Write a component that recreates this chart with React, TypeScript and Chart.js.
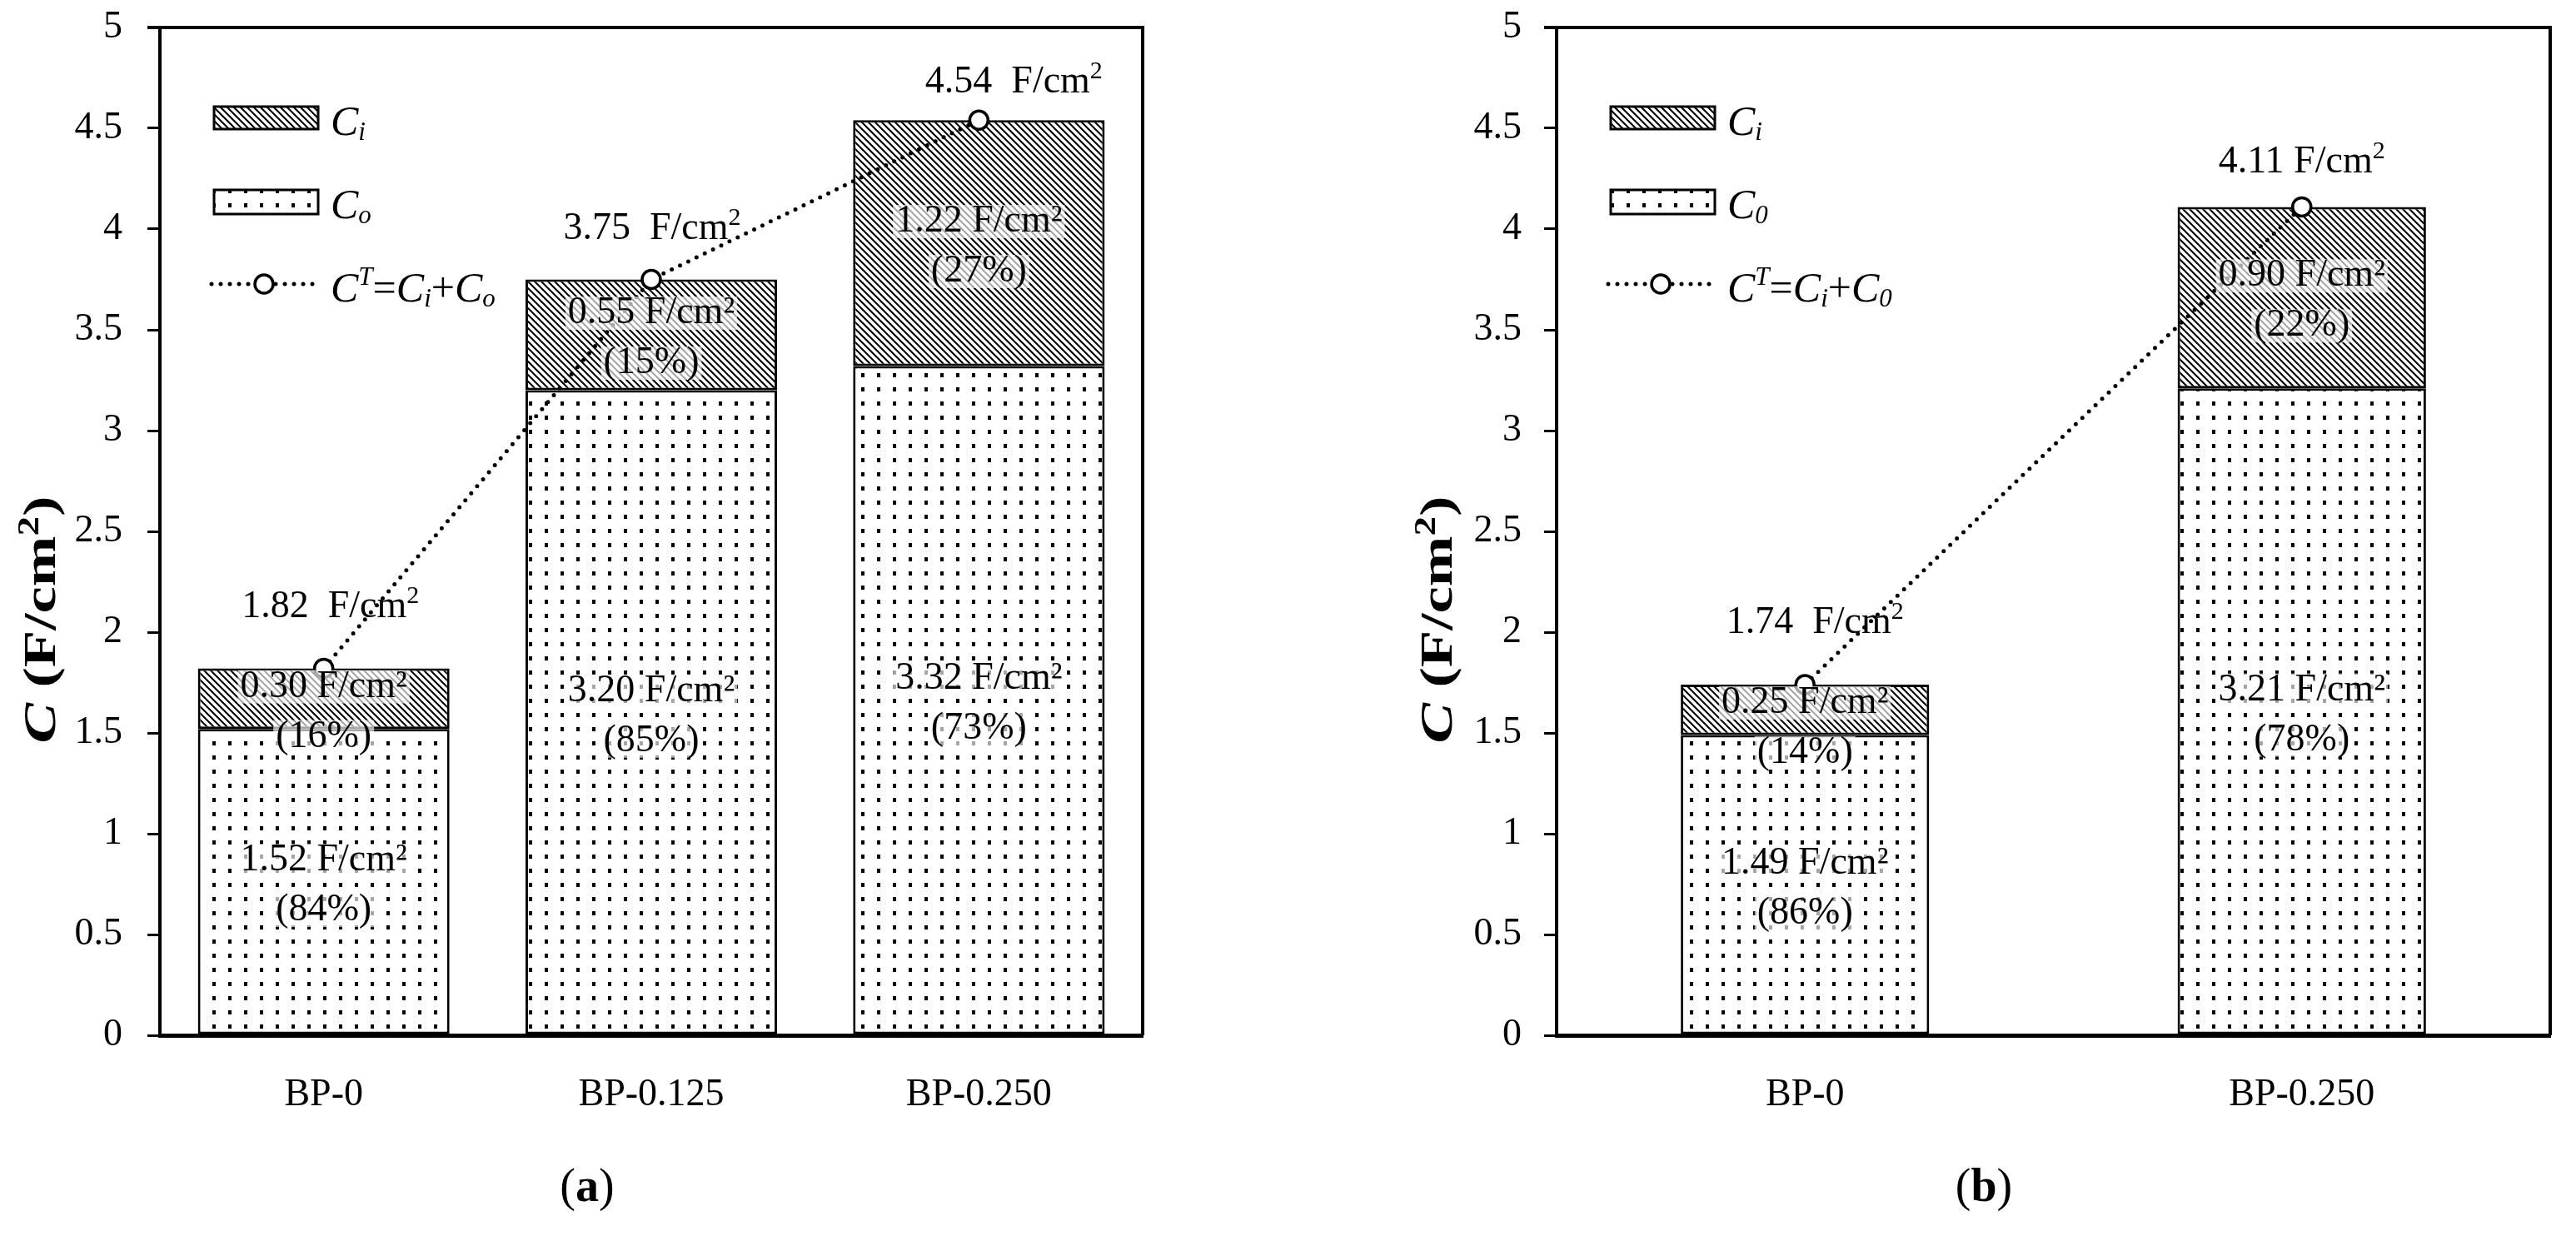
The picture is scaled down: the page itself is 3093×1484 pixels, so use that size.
import React, { useEffect, useRef } from "react";
import { Chart, registerables } from "chart.js";

Chart.register(...registerables);

const FONT = '"Liberation Serif", "Times New Roman", serif';

// ---------- Panel (a) data ----------
const categoriesA = ["BP-0", "BP-0.125", "BP-0.250"];
const coA = [1.52, 3.2, 3.32];
const ciA = [0.3, 0.55, 1.22];
const totalA = [1.82, 3.75, 4.54];
const coPctA = [84, 85, 73];
const ciPctA = [16, 15, 27];

// ---------- Panel (b) data ----------
const categoriesB = ["BP-0", "BP-0.250"];
const coB = [1.49, 3.21];
const ciB = [0.25, 0.9];
const totalB = [1.74, 4.11];
const coPctB = [86, 78];
const ciPctB = [14, 22];

// ---------- Axis ----------
const yMin = 0;
const yMax = 5;
const yStep = 0.5;

type Part = { t: string; f: string; dy?: number };

function drawRich(ctx: CanvasRenderingContext2D, parts: Part[], x: number, y: number, align: "left" | "center" | "right") {
  let w = 0;
  for (const p of parts) {
    ctx.font = p.f;
    w += ctx.measureText(p.t).width;
  }
  let cx = align === "center" ? x - w / 2 : align === "right" ? x - w : x;
  ctx.textAlign = "left";
  ctx.textBaseline = "alphabetic";
  for (const p of parts) {
    ctx.font = p.f;
    ctx.fillText(p.t, cx, y + (p.dy || 0));
    cx += ctx.measureText(p.t).width;
  }
  return w;
}

function makeHatch(ctx: CanvasRenderingContext2D) {
  const c = document.createElement("canvas");
  c.width = 8;
  c.height = 8;
  const g = c.getContext("2d")!;
  g.fillStyle = "#fff";
  g.fillRect(0, 0, 8, 8);
  g.strokeStyle = "#000";
  g.lineWidth = 2.0;
  g.beginPath();
  g.moveTo(-2, -2);
  g.lineTo(10, 10);
  g.moveTo(-2, 6);
  g.lineTo(2, 10);
  g.moveTo(6, -2);
  g.lineTo(10, 2);
  g.stroke();
  return ctx.createPattern(c, "repeat")!;
}

function makeDots(ctx: CanvasRenderingContext2D) {
  const c = document.createElement("canvas");
  c.width = 19;
  c.height = 17;
  const g = c.getContext("2d")!;
  g.fillStyle = "#fff";
  g.fillRect(0, 0, 19, 17);
  g.fillStyle = "#000";
  g.fillRect(8, 6, 4, 5);
  return ctx.createPattern(c, "repeat")!;
}

type PanelCfg = {
  categories: string[];
  co: number[];
  ci: number[];
  total: number[];
  coPct: number[];
  ciPct: number[];
  totalSep: string[];
  totalDx: number[];
  totalDy: number[];
  barPct: number;
  axisLeft: number;
  padRight: number;
  tickPad: number;
  titleX: number;
  label: string;
  labelX: number;
  subO: string;
  width: number;
  left: number;
};

const panelA: PanelCfg = {
  categories: categoriesA,
  co: coA,
  ci: ciA,
  total: totalA,
  coPct: coPctA,
  ciPct: ciPctA,
  totalSep: ["  ", "  ", "  "],
  totalDx: [8, 1, 42],
  totalDy: [-76, -63, -47],
  barPct: 0.768,
  axisLeft: 192,
  padRight: 174,
  tickPad: 30,
  titleX: 48,
  label: "a",
  labelX: 705,
  subO: "o",
  width: 1546,
  left: 0,
};

const panelB: PanelCfg = {
  categories: categoriesB,
  co: coB,
  ci: ciB,
  total: totalB,
  coPct: coPctB,
  ciPct: ciPctB,
  totalSep: ["  ", " "],
  totalDx: [12, 0],
  totalDy: [-76, -55],
  barPct: 0.5,
  axisLeft: 323,
  padRight: 31,
  tickPad: 27,
  titleX: 179,
  label: "b",
  labelX: 836,
  subO: "0",
  width: 1547,
  left: 1546,
};

function Panel({ cfg }: { cfg: PanelCfg }) {
  const ref = useRef<HTMLCanvasElement>(null);
  useEffect(() => {
    const canvas = ref.current!;
    const ctx = canvas.getContext("2d")!;
    const hatch = makeHatch(ctx);
    const dots = makeDots(ctx);

    const overlay = {
      id: "overlay",
      afterDatasetsDraw(chart: any) {
        const c = chart.ctx as CanvasRenderingContext2D;
        const xs = chart.scales.x;
        const ys = chart.scales.y;
        const area = chart.chartArea;
        c.save();
        c.fillStyle = "#000";
        // segment labels
        const segFont = `46px ${FONT}`;
        const drawSeg = (x: number, top: number, bottom: number, l1: string, l2: string) => {
          let mid = (top + bottom) / 2 + 4;
          mid = Math.max(mid, top + 52);
          const lines = [
            [l1, mid - 30],
            [l2, mid + 30],
          ] as [string, number][];
          c.font = segFont;
          for (const [t, cy] of lines) {
            const w = c.measureText(t).width + 6;
            c.fillStyle = "rgba(255,255,255,0.65)";
            c.fillRect(x - w / 2, cy - 20, w, 40);
          }
          c.fillStyle = "#000";
          c.textAlign = "center";
          c.textBaseline = "middle";
          for (const [t, cy] of lines) c.fillText(t, x, cy);
        };
        cfg.categories.forEach((_, i) => {
          const x = xs.getPixelForValue(i);
          const y0 = ys.getPixelForValue(0);
          const yCo = ys.getPixelForValue(cfg.co[i]);
          const yTop = ys.getPixelForValue(cfg.co[i] + cfg.ci[i]);
          drawSeg(x, yCo, y0, `${cfg.co[i].toFixed(2)} F/cm²`, `(${cfg.coPct[i]}%)`);
          drawSeg(x, yTop, yCo, `${cfg.ci[i].toFixed(2)} F/cm²`, `(${cfg.ciPct[i]}%)`);
          // total label
          const yT = ys.getPixelForValue(cfg.total[i]);
          c.fillStyle = "#000";
          drawRich(
            c,
            [
              { t: `${cfg.total[i].toFixed(2)}${cfg.totalSep[i]}F/cm`, f: `46px ${FONT}` },
              { t: "2", f: `30px ${FONT}`, dy: -17 },
            ],
            x + cfg.totalDx[i],
            yT + cfg.totalDy[i] + 14,
            "center"
          );
        });

        // frame top + right
        c.strokeStyle = "#000";
        c.lineWidth = 4;
        c.beginPath();
        c.moveTo(area.left - 15, area.top);
        c.lineTo(area.right, area.top);
        c.lineTo(area.right, area.bottom);
        c.stroke();

        // legend
        const L = area.left;
        const T = area.top;
        const px = L + 65;
        const pw = 125;
        c.lineWidth = 3;
        c.fillStyle = hatch;
        c.fillRect(px, T + 95, pw, 27);
        c.strokeRect(px, T + 95, pw, 27);
        c.fillStyle = dots;
        c.fillRect(px, T + 195, pw, 29);
        c.strokeRect(px, T + 195, pw, 29);
        // dotted line legend
        const ly = T + 308;
        c.save();
        c.setLineDash([0, 11]);
        c.lineCap = "round";
        c.lineWidth = 5;
        c.beginPath();
        c.moveTo(L + 62, ly);
        c.lineTo(L + 186, ly);
        c.stroke();
        c.restore();
        c.beginPath();
        c.arc(L + 125, ly, 11, 0, Math.PI * 2);
        c.fillStyle = "#fff";
        c.fill();
        c.lineWidth = 3.5;
        c.strokeStyle = "#000";
        c.stroke();

        c.fillStyle = "#000";
        const it = `italic 50px ${FONT}`;
        const sub = `italic 31px ${FONT}`;
        const rg = `50px ${FONT}`;
        const tx = L + 205;
        drawRich(c, [{ t: "C", f: it }, { t: "i", f: sub, dy: 6 }], tx, T + 129, "left");
        drawRich(c, [{ t: "C", f: it }, { t: cfg.subO, f: sub, dy: 6 }], tx, T + 229, "left");
        drawRich(
          c,
          [
            { t: "C", f: it },
            { t: "T", f: sub, dy: -20 },
            { t: "=", f: rg },
            { t: "C", f: it },
            { t: "i", f: sub, dy: 6 },
            { t: "+", f: rg },
            { t: "C", f: it },
            { t: cfg.subO, f: sub, dy: 6 },
          ],
          tx,
          T + 329,
          "left"
        );

        // y-axis title
        c.save();
        c.translate(cfg.titleX, 744);
        c.rotate(-Math.PI / 2);
        c.scale(1.35, 1);
        drawRich(
          c,
          [
            { t: "C", f: `italic bold 54px ${FONT}` },
            { t: " (F/cm", f: `bold 54px ${FONT}` },
            { t: "2", f: `bold 35px ${FONT}`, dy: -20 },
            { t: ")", f: `bold 54px ${FONT}` },
          ],
          0,
          18,
          "center"
        );
        c.restore();

        // panel label
        drawRich(
          c,
          [
            { t: "(", f: `56px ${FONT}` },
            { t: cfg.label, f: `bold 56px ${FONT}` },
            { t: ")", f: `56px ${FONT}` },
          ],
          cfg.labelX,
          1442,
          "center"
        );
        c.restore();
      },
    };

    const chart = new Chart(canvas, {
      type: "bar",
      data: {
        labels: cfg.categories,
        datasets: [
          {
            type: "line",
            label: "CT",
            data: cfg.total,
            order: 0,
            borderColor: "#000",
            borderWidth: 5,
            borderDash: [0, 11],
            borderCapStyle: "round",
            pointRadius: 11,
            pointBorderWidth: 3.5,
            pointBackgroundColor: "#fff",
            pointBorderColor: "#000",
            fill: false,
            tension: 0,
          } as any,
          {
            type: "bar",
            label: "Co",
            data: cfg.co,
            order: 1,
            backgroundColor: dots,
            borderColor: "#000",
            borderWidth: 3,
            borderSkipped: false,
            barPercentage: cfg.barPct,
            categoryPercentage: 1,
          } as any,
          {
            type: "bar",
            label: "Ci",
            data: cfg.ci,
            order: 1,
            backgroundColor: hatch,
            borderColor: "#000",
            borderWidth: 3,
            borderSkipped: false,
            barPercentage: cfg.barPct,
            categoryPercentage: 1,
          } as any,
        ],
      },
      options: {
        animation: false,
        responsive: false,
        devicePixelRatio: 1,
        layout: { padding: { left: 0, top: 33, right: cfg.padRight, bottom: 0 } },
        plugins: { legend: { display: false }, tooltip: { enabled: false } },
        scales: {
          x: {
            stacked: true,
            grid: { display: false, drawTicks: false },
            border: { display: true, color: "#000", width: 5 },
            ticks: { font: { family: FONT, size: 46 }, color: "#000", padding: 44 },
            afterFit: (s: any) => {
              s.height = 241;
              s.paddingLeft = 0;
              s.paddingRight = 0;
            },
          },
          y: {
            stacked: true,
            min: yMin,
            max: yMax,
            ticks: {
              stepSize: yStep,
              font: { family: FONT, size: 46 },
              color: "#000",
              padding: cfg.tickPad,
              callback: (v: any) => String(Math.round(Number(v) * 10) / 10),
            },
            grid: { drawOnChartArea: false, drawTicks: true, tickLength: 15, color: "#000", lineWidth: 3 },
            border: { display: true, color: "#000", width: 4 },
            afterFit: (s: any) => {
              s.width = cfg.axisLeft;
              s.paddingTop = 0;
              s.paddingBottom = 0;
            },
          },
        } as any,
      },
      plugins: [overlay],
    });
    return () => chart.destroy();
  }, []);
  return (
    <canvas
      ref={ref}
      width={cfg.width}
      height={1484}
      style={{ position: "absolute", left: cfg.left, top: 0, width: cfg.width, height: 1484 }}
    />
  );
}

export default function App() {
  return (
    <div style={{ position: "relative", width: 3093, height: 1484, background: "#fff", overflow: "hidden" }}>
      <style>{`body{margin:0;background:#fff}`}</style>
      <Panel cfg={panelA} />
      <Panel cfg={panelB} />
    </div>
  );
}
